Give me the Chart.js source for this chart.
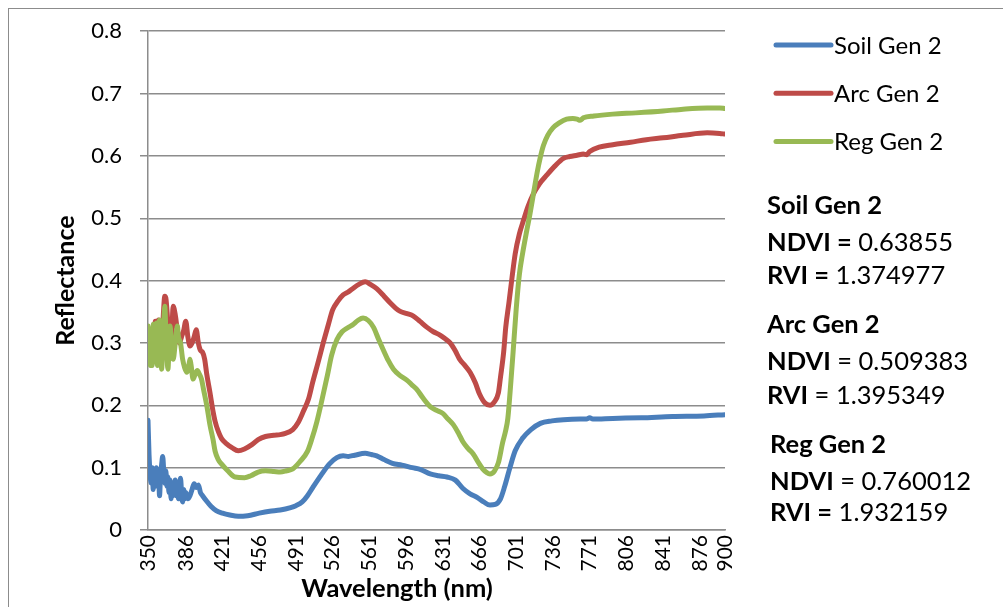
<!DOCTYPE html>
<html>
<head>
<meta charset="utf-8">
<script src="https://cdn.jsdelivr.net/npm/chart.js@4.4.1/dist/chart.umd.min.js"></script>
<style>
  html, body { margin: 0; padding: 0; background: #fff; }
  #wrap { position: relative; width: 1003px; height: 607px; overflow: hidden; font-family: Lato, sans-serif; }
  #frame { position: absolute; left: 8px; top: 8px; width: 1100px; height: 700px;
           border-left: 1.5px solid #8c8c8c; border-top: 1.5px solid #8c8c8c; }
  #chart { position: absolute; left: 0; top: 0; }
  .stats { position: absolute; left: 767px; top: 0; font-size: 25.5px; line-height: 30px; color: #000; white-space: nowrap; }
  .stats div { position: absolute; left: 0; }
  .stats b { font-weight: 700; }
</style>
</head>
<body>
<div id="wrap">
  <div id="frame"></div>
  <canvas id="chart" width="1003" height="607"></canvas>
  <div class="stats">
    <div style="top:189px"><b>Soil Gen 2</b></div>
    <div style="top:226px"><b>NDVI =</b> 0.63855</div>
    <div style="top:259px"><b>RVI =</b> 1.374977</div>
    <div style="top:308px"><b>Arc Gen 2</b></div>
    <div style="top:345px"><b>NDVI</b> = 0.509383</div>
    <div style="top:379px"><b>RVI</b> = 1.395349</div>
    <div style="top:428px;left:3px"><b>Reg Gen 2</b></div>
    <div style="top:465px;left:3px"><b>NDVI</b> = 0.760012</div>
    <div style="top:496px;left:3px"><b>RVI =</b> 1.932159</div>
  </div>
</div>
<script>
// tick labels on the wavelength axis
const xTicks = [350, 386, 421, 456, 491, 526, 561, 596, 631, 666, 701, 736, 771, 806, 841, 876, 900];
const xTitle = 'Wavelength (nm)';
const yTitle = 'Reflectance';

// Soil Gen 2
const soilNm = [350,351,352,353,354,355,356,357,358,359,360,361,362,363,364,365,366,367,368,369,370,371,372,373,374,375,376,377,378,379,380,381,382,383,384,385,386,
  388,390,392,394,396,398,400,402,406,410,415,421,428,436,445,456,466,476,486,491,497,502,507,515,523,530,536,541,547,557,563,568,575,583,592,602,610,619,627,635,643,650,657,664,670,676,681,686,690,695,700,707,715,724,735,746,762,768,771,774,793,820,850,880,900];
const soilRef = [0.176,0.12,0.09,0.075,0.1,0.065,0.095,0.07,0.1,0.075,0.095,0.055,0.09,0.105,0.118,0.095,0.075,0.095,0.07,0.085,0.06,0.08,0.05,0.075,0.055,0.07,0.08,0.055,0.075,0.05,0.07,0.083,0.06,0.045,0.065,0.05,0.06,
  0.05,0.055,0.065,0.074,0.068,0.072,0.06,0.055,0.046,0.038,0.031,0.027,0.024,0.022,0.023,0.027,0.03,0.032,0.036,0.039,0.045,0.055,0.068,0.088,0.106,0.116,0.119,0.118,0.12,0.123,0.121,0.119,0.113,0.107,0.104,0.1,0.097,0.09,0.087,0.085,0.08,0.067,0.058,0.052,0.045,0.04,0.041,0.05,0.07,0.1,0.127,0.147,0.161,0.171,0.175,0.177,0.178,0.178,0.18,0.178,0.179,0.18,0.182,0.183,0.185];

// Arc Gen 2
const arcNm = [350,352,354,356,357,359,360,362,364,366,367,369,371,373,374,376,378,380,382,384,386,388,390,392,394,396,398,400,402,404,406,409,412,414,417,420,425,430,436,442,
  449,455,462,470,476,481,488,493,498,503,507,512,517,522,526,531,536,541,545,551,557,562,568,575,581,586,590,597,603,609,616,622,628,633,638,643,647,652,657,662,
  666,671,676,680,684,686,689,691,694,697,700,704,708,712,717,723,730,738,746,752,759,765,768,771,780,793,810,825,841,860,883,895,900];
const arcRef = [0.31,0.29,0.32,0.3,0.335,0.3,0.337,0.31,0.33,0.375,0.372,0.33,0.275,0.33,0.359,0.345,0.32,0.3,0.31,0.32,0.335,0.31,0.295,0.3,0.31,0.321,0.3,0.288,0.285,0.274,0.25,0.221,0.19,0.174,0.158,0.147,0.138,0.132,0.127,0.13,
  0.137,0.145,0.15,0.152,0.153,0.155,0.161,0.172,0.19,0.21,0.237,0.268,0.3,0.33,0.353,0.367,0.377,0.382,0.387,0.394,0.398,0.394,0.387,0.375,0.364,0.356,0.351,0.347,0.343,0.335,0.325,0.318,0.313,0.307,0.3,0.287,0.274,0.264,0.253,0.236,
  0.218,0.204,0.2,0.205,0.22,0.245,0.285,0.325,0.364,0.405,0.443,0.475,0.497,0.518,0.538,0.555,0.569,0.584,0.596,0.599,0.601,0.603,0.602,0.607,0.614,0.618,0.622,0.626,0.629,0.633,0.637,0.636,0.635];

// Reg Gen 2
const regNm = [350,351,352,353,354,355,356,357,358,359,360,361,362,363,364,365,366,367,368,369,370,371,372,373,374,376,378,379,381,383,385,387,389,390,391,393,395,397,399,401,403,406,409,412,414,
  417,420,426,433,442,448,455,462,470,476,482,488,495,502,506,511,516,521,525,530,535,540,545,550,555,560,565,570,574,579,584,590,597,602,606,612,619,625,631,636,
  641,646,650,655,660,665,669,673,676,680,684,688,691,693,696,698,701,704,707,711,714,718,721,724,727,731,736,742,749,755,759,762,765,775,793,815,841,860,883,895,900];
const regRef = [0.327,0.29,0.264,0.321,0.264,0.33,0.3,0.275,0.332,0.264,0.3,0.337,0.3,0.258,0.3,0.33,0.359,0.32,0.28,0.258,0.29,0.327,0.31,0.29,0.274,0.3,0.327,0.31,0.3,0.274,0.26,0.253,0.265,0.274,0.265,0.242,0.25,0.256,0.25,0.242,0.225,0.2,0.169,0.145,0.126,
  0.113,0.106,0.095,0.085,0.084,0.087,0.093,0.095,0.094,0.093,0.095,0.098,0.11,0.126,0.145,0.174,0.21,0.248,0.28,0.305,0.318,0.324,0.329,0.336,0.34,0.336,0.325,0.305,0.29,0.272,0.258,0.248,0.24,0.232,0.226,0.212,0.198,0.192,0.187,0.178,
  0.169,0.155,0.142,0.131,0.122,0.108,0.098,0.092,0.09,0.094,0.108,0.14,0.16,0.179,0.24,0.285,0.355,0.41,0.443,0.48,0.506,0.545,0.574,0.598,0.617,0.633,0.645,0.653,0.659,0.66,0.659,0.657,0.661,0.664,0.667,0.669,0.672,0.675,0.677,0.677,0.676];

const gridColor = '#8c8c8c';

function series(label, nm, ref, color, order) {
  return {
    label,
    data: nm.map((x, i) => ({ x, y: ref[i] })),
    borderColor: color,
    backgroundColor: color,
    borderWidth: 5,
    borderCapStyle: 'round',
    borderJoinStyle: 'round',
    pointRadius: 0,
    cubicInterpolationMode: 'monotone',
    fill: false,
    order
  };
}

// legend lines + x axis title, drawn where the original has them
const overlay = {
  id: 'overlay',
  afterDraw(chart) {
    const { ctx, chartArea } = chart;
    ctx.save();
    ctx.font = '24px Lato';
    ctx.textBaseline = 'middle';
    chart.data.datasets.forEach((ds, i) => {
      const y = 45 + i * 48.3;
      const x0 = chartArea.right + 51;
      ctx.strokeStyle = ds.borderColor;
      ctx.lineWidth = 5;
      ctx.lineCap = 'round';
      ctx.beginPath();
      ctx.moveTo(x0, y);
      ctx.lineTo(x0 + 55, y);
      ctx.stroke();
      ctx.fillStyle = '#000';
      ctx.textAlign = 'left';
      ctx.fillText(ds.label, x0 + 58, y + 1);
    });
    ctx.font = 'bold 25.5px Lato';
    ctx.textAlign = 'center';
    ctx.fillText(xTitle, 397, 589);
    ctx.restore();
  }
};

Chart.defaults.font.family = 'Lato';
Chart.defaults.font.size = 21;
Chart.defaults.color = '#000';

new Chart(document.getElementById('chart'), {
  type: 'line',
  data: {
    datasets: [
      series('Soil Gen 2', soilNm, soilRef, '#4a7ebb', 3),
      series('Arc Gen 2', arcNm, arcRef, '#be4b48', 2),
      series('Reg Gen 2', regNm, regRef, '#98b954', 1)
    ]
  },
  options: {
    responsive: false,
    animation: false,
    devicePixelRatio: 1,
    layout: { padding: { top: 24, right: 278, bottom: 0, left: 0 } },
    plugins: {
      legend: { display: false },
      tooltip: { enabled: false }
    },
    scales: {
      x: {
        type: 'linear',
        min: 350,
        max: 900,
        afterBuildTicks: s => { s.ticks = xTicks.map(v => ({ value: v })); },
        afterFit: s => { s.height = 77; },
        ticks: {
          autoSkip: false,
          minRotation: 90,
          maxRotation: 90,
          padding: 5,
          callback: v => String(v)
        },
        grid: { display: false, drawTicks: false },
        border: { display: true, color: gridColor, width: 1.5 }
      },
      y: {
        min: 0,
        max: 0.8,
        afterFit: s => { s.width = 148; },
        ticks: {
          stepSize: 0.1,
          padding: 18,
          font: { size: 22 },
          callback: v => (v === 0 ? '0' : v.toFixed(1))
        },
        grid: { color: gridColor, lineWidth: 1.5, tickLength: 8 },
        border: { display: true, color: gridColor, width: 1.5 },
        title: {
          display: true,
          text: yTitle,
          font: { size: 25, weight: 'bold' },
          padding: { top: 51, bottom: 0 }
        }
      }
    }
  },
  plugins: [overlay]
});
</script>
</body>
</html>
